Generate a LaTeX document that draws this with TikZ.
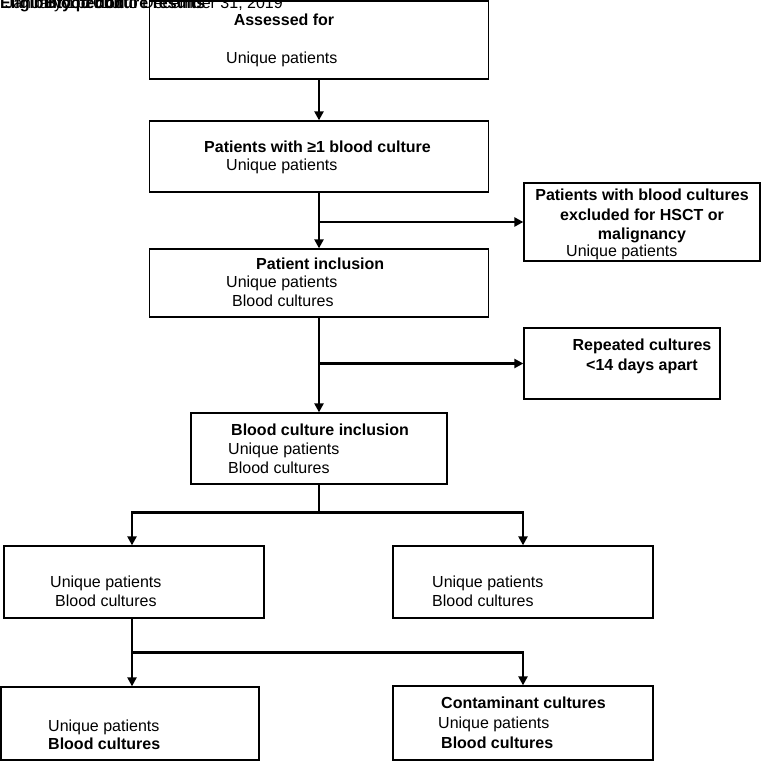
\documentclass[tikz,border=0pt]{standalone}
\usepackage{fontspec}
\setmainfont{Liberation Sans}
\usetikzlibrary{arrows.meta}
\begin{document}
\begin{tikzpicture}[x=1pt,y=-1pt,
  box/.style={draw,line width=1.3pt,inner sep=0pt,minimum width=#1},
  txt/.style={inner sep=0pt,text height=11pt,text depth=3pt,font=\fontsize{16}{18}\selectfont},
  bold/.style={txt,font=\fontsize{16}{18}\selectfont\bfseries},
  conn/.style={line width=2.8pt},
  arr/.style={line width=2.8pt,-{Triangle[length=9pt,width=9pt]}}]
\useasboundingbox (0,0) rectangle (762,762);
% header text, overprinted
\node[bold,anchor=base west] (h1) at (0,9) {Eligibility period};
\node[bold,anchor=base west] (h2) at (45,9) {Blood culture results};
\node[txt,anchor=base east] (h3) at (283,9) {January 1, 2010 to December 31, 2019};
% boxes
\node[box=339pt,minimum height=78pt] (b1) at (319,40) {};
\node[box=339pt,minimum height=71pt] (b2) at (319,156.5) {};
\node[box=339pt,minimum height=68pt] (b3) at (319,283) {};
\node[box=236pt,minimum height=78pt] (b4) at (642,222) {};
\node[box=196pt,minimum height=71pt] (b5) at (622,363.5) {};
\node[box=256pt,minimum height=71pt] (b6) at (319,448.5) {};
\node[box=260pt,minimum height=72pt] (b7) at (134,582) {};
\node[box=260pt,minimum height=72pt] (b8) at (523,582) {};
\node[box=258pt,minimum height=73pt] (b9) at (130,723.5) {};
\node[box=260pt,minimum height=74pt] (b10) at (523,723) {};
% texts
\node[bold] (t1a) at (284,22) {Assessed for};
\node[txt,anchor=west] (t1b) at (226,60) {Unique patients};
\node[bold,anchor=west] (t2a) at (204,149) {Patients with ≥1 blood culture};
\node[txt,anchor=west] (t2b) at (226,167) {Unique patients};
\node[bold,anchor=west] (t3a) at (256,265) {Patient inclusion};
\node[txt,anchor=west] (t3b) at (226,283) {Unique patients};
\node[txt,anchor=west] (t3c) at (232,302) {Blood cultures};
\node[bold] (t4a) at (642,196) {Patients with blood cultures};
\node[bold] (t4b) at (642,216) {excluded for HSCT or};
\node[bold] (t4c) at (642,235) {malignancy};
\node[txt,anchor=west] (t4d) at (566,252) {Unique patients};
\node[bold] (t5a) at (642,346) {Repeated cultures};
\node[bold] (t5b) at (642,366) {<14 days apart};
\node[bold,anchor=west] (t6a) at (231,431) {Blood culture inclusion};
\node[txt,anchor=west] (t6b) at (228,450) {Unique patients};
\node[txt,anchor=west] (t6c) at (228,469) {Blood cultures};
\node[txt,anchor=west] (t7a) at (50,583) {Unique patients};
\node[txt,anchor=west] (t7b) at (55,602) {Blood cultures};
\node[txt,anchor=west] (t8a) at (432,583) {Unique patients};
\node[txt,anchor=west] (t8b) at (432,602) {Blood cultures};
\node[txt,anchor=west] (t9a) at (48,727) {Unique patients};
\node[bold,anchor=west] (t9b) at (48,745) {Blood cultures};
\node[bold,anchor=west] (t10a) at (441,704) {Contaminant cultures};
\node[txt,anchor=west] (t10b) at (438,724) {Unique patients};
\node[bold,anchor=west] (t10c) at (441,744) {Blood cultures};
% connectors
\draw[arr] (b1.south) -- (b2.north);
\draw[arr] (b2.south) -- (b3.north);
\draw[arr] (b2.south |- b4.west) -- (b4.west);
\draw[arr] (b3.south) -- (b6.north);
\draw[arr] (b3.south |- b5.west) -- (b5.west);
\draw[conn] (b6.south) -- ++(0,28) coordinate (j1);
\draw[arr] (j1) -| ([xshift=-2pt]b7.north);
\draw[arr] (j1) -| (b8.north);
\draw[conn] ([xshift=-2pt]b7.south) -- ++(0,34) coordinate (j2);
\draw[arr] (j2) -- ([xshift=2pt]b9.north);
\draw[arr] (j2) -| (b10.north);
\end{tikzpicture}
\end{document}
